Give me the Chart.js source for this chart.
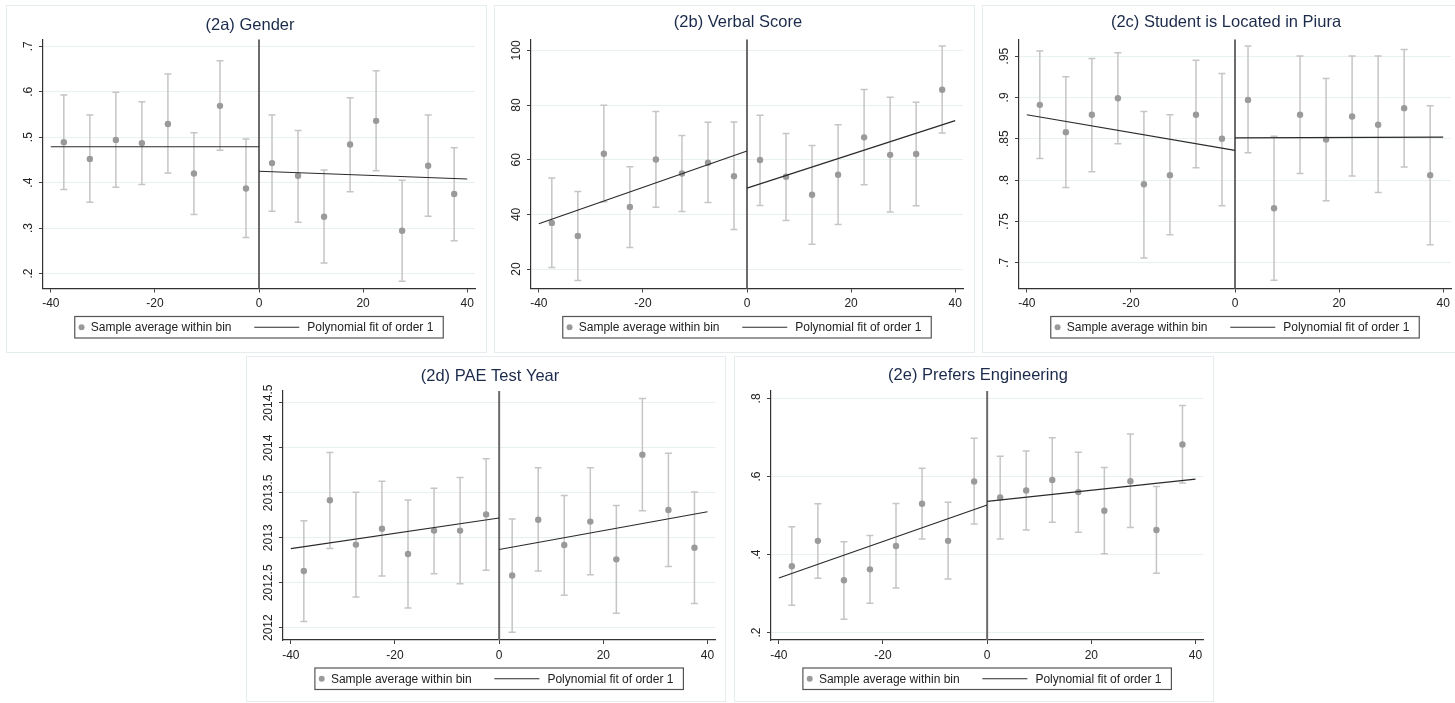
<!DOCTYPE html>
<html>
<head>
<meta charset="utf-8">
<script src="https://cdn.jsdelivr.net/npm/chart.js@4.4.1/dist/chart.umd.min.js"></script>
<style>
  html, body { margin: 0; padding: 0; background: #ffffff; width: 1455px; height: 703px; overflow: hidden; }
  .panel { position: absolute; background: #ffffff; border: 1px solid #e5edef; box-sizing: border-box; }
  .panel canvas { position: absolute; left: 0; top: 0; }
</style>
</head>
<body>
<div class="panel" id="p0" style="left:6px;top:5px;width:481px;height:348px;"><canvas id="c0" width="481" height="348"></canvas></div>
<div class="panel" id="p1" style="left:494px;top:5px;width:481px;height:348px;"><canvas id="c1" width="481" height="348"></canvas></div>
<div class="panel" id="p2" style="left:982px;top:5px;width:481px;height:348px;"><canvas id="c2" width="481" height="348"></canvas></div>
<div class="panel" id="p3" style="left:246px;top:356px;width:480px;height:346px;"><canvas id="c3" width="480" height="346"></canvas></div>
<div class="panel" id="p4" style="left:734px;top:356px;width:480px;height:346px;"><canvas id="c4" width="480" height="346"></canvas></div>
<script>
// ---------------- DATA ----------------
const binCenters = [-37.5, -32.5, -27.5, -22.5, -17.5, -12.5, -7.5, -2.5, 2.5, 7.5, 12.5, 17.5, 22.5, 27.5, 32.5, 37.5];
const fitXLeft = [-40, 0];
const fitXRight = [0, 40];
const xTicks = [-40, -20, 0, 20, 40];
const xTickLabels = ['-40', '-20', '0', '20', '40'];

const genderMean = [0.489, 0.452, 0.494, 0.487, 0.529, 0.420, 0.569, 0.387, 0.443, 0.415, 0.325, 0.484, 0.536, 0.294, 0.437, 0.375];
const genderLo   = [0.385, 0.357, 0.390, 0.396, 0.421, 0.330, 0.471, 0.279, 0.337, 0.313, 0.223, 0.380, 0.426, 0.183, 0.326, 0.272];
const genderHi   = [0.593, 0.549, 0.599, 0.578, 0.639, 0.510, 0.668, 0.496, 0.549, 0.515, 0.428, 0.587, 0.646, 0.405, 0.549, 0.477];
const genderFitLeft = [0.479, 0.479];
const genderFitRight = [0.425, 0.408];
const genderTicks = [0.2, 0.3, 0.4, 0.5, 0.6, 0.7];
const genderTickLabels = ['.2', '.3', '.4', '.5', '.6', '.7'];

const verbalMean = [36.9, 32.1, 62.2, 42.7, 60.1, 55.0, 58.9, 54.0, 59.9, 53.8, 47.2, 54.5, 68.2, 61.8, 62.1, 85.6];
const verbalLo   = [20.6, 15.8, 44.6, 27.9, 42.6, 41.1, 44.4, 34.5, 43.3, 37.8, 29.1, 36.3, 50.9, 40.9, 43.2, 69.8];
const verbalHi   = [53.3, 48.4, 79.9, 57.4, 77.7, 68.9, 73.7, 73.8, 76.3, 69.6, 65.2, 72.8, 85.7, 82.9, 81.0, 101.6];
const verbalFitLeft = [36.6, 63.2];
const verbalFitRight = [49.6, 74.3];
const verbalTicks = [20, 40, 60, 80, 100];
const verbalTickLabels = ['20', '40', '60', '80', '100'];

const piuraMean = [0.891, 0.858, 0.879, 0.899, 0.795, 0.806, 0.879, 0.850, 0.897, 0.766, 0.879, 0.849, 0.877, 0.867, 0.887, 0.806];
const piuraLo   = [0.826, 0.791, 0.810, 0.844, 0.706, 0.734, 0.815, 0.769, 0.833, 0.679, 0.808, 0.775, 0.805, 0.785, 0.816, 0.722];
const piuraHi   = [0.956, 0.925, 0.947, 0.954, 0.883, 0.879, 0.945, 0.929, 0.962, 0.853, 0.950, 0.923, 0.950, 0.950, 0.958, 0.890];
const piuraFitLeft = [0.879, 0.836];
const piuraFitRight = [0.851, 0.852];
const piuraTicks = [0.7, 0.75, 0.8, 0.85, 0.9, 0.95];
const piuraTickLabels = ['.7', '.75', '.8', '.85', '.9', '.95'];

const yearMean = [2012.63, 2013.417, 2012.924, 2013.10, 2012.82, 2013.08, 2013.08, 2013.26, 2012.58, 2013.20, 2012.92, 2013.18, 2012.76, 2013.925, 2013.31, 2012.89];
const yearLo   = [2012.07, 2012.88, 2012.34, 2012.575, 2012.22, 2012.60, 2012.49, 2012.64, 2011.95, 2012.63, 2012.36, 2012.59, 2012.16, 2013.30, 2012.68, 2012.27];
const yearHi   = [2013.19, 2013.95, 2013.506, 2013.63, 2013.42, 2013.55, 2013.67, 2013.88, 2013.21, 2013.78, 2013.47, 2013.78, 2013.36, 2014.55, 2013.94, 2013.51];
const yearFitLeft = [2012.88, 2013.22];
const yearFitRight = [2012.87, 2013.29];
const yearTicks = [2012, 2012.5, 2013, 2013.5, 2014, 2014.5];
const yearTickLabels = ['2012', '2012.5', '2013', '2013.5', '2014', '2014.5'];

const engMean = [0.370, 0.435, 0.334, 0.362, 0.422, 0.530, 0.435, 0.587, 0.546, 0.564, 0.591, 0.560, 0.512, 0.588, 0.463, 0.682];
const engLo   = [0.270, 0.339, 0.234, 0.275, 0.314, 0.440, 0.337, 0.478, 0.440, 0.463, 0.483, 0.457, 0.402, 0.469, 0.352, 0.583];
const engHi   = [0.471, 0.530, 0.433, 0.449, 0.531, 0.621, 0.534, 0.698, 0.652, 0.665, 0.699, 0.662, 0.623, 0.709, 0.574, 0.782];
const engFitLeft = [0.340, 0.527];
const engFitRight = [0.536, 0.593];
const engTicks = [0.2, 0.4, 0.6, 0.8];
const engTickLabels = ['.2', '.4', '.6', '.8'];

const titles = ['(2a) Gender', '(2b) Verbal Score', '(2c) Student is Located in Piura', '(2d) PAE Test Year', '(2e) Prefers Engineering'];
const legendLabels = ['Sample average within bin', 'Polynomial fit of order 1'];

// ---------------- STYLE / LAYOUT ----------------
const FONT = "'Liberation Sans', Arial, Helvetica, sans-serif";
Chart.defaults.font.family = FONT;
Chart.defaults.font.size = 12;
Chart.defaults.color = '#222222';

const panels = [
  { canvas: 'c0', title: titles[0], mean: genderMean, lo: genderLo, hi: genderHi, fitL: genderFitLeft, fitR: genderFitRight, yt: genderTicks, ytl: genderTickLabels, yMin: 0.167, yMax: 0.715, titleY: 19, top: 33.5, bottom: 41.5, right: 13, legendY: 310.5 },
  { canvas: 'c1', title: titles[1], mean: verbalMean, lo: verbalLo, hi: verbalHi, fitL: verbalFitLeft, fitR: verbalFitRight, yt: verbalTicks, ytl: verbalTickLabels, yMin: 12.9, yMax: 104, titleY: 16.5, top: 33.5, bottom: 41.5, right: 13, legendY: 310.5 },
  { canvas: 'c2', title: titles[2], mean: piuraMean, lo: piuraLo, hi: piuraHi, fitL: piuraFitLeft, fitR: piuraFitRight, yt: piuraTicks, ytl: piuraTickLabels, yMin: 0.669, yMax: 0.970, titleY: 16, top: 33.5, bottom: 41.5, right: 13, legendY: 310.5 },
  { canvas: 'c3', title: titles[3], mean: yearMean, lo: yearLo, hi: yearHi, fitL: yearFitLeft, fitR: yearFitRight, yt: yearTicks, ytl: yearTickLabels, yMin: 2011.863, yMax: 2014.633, titleY: 19.5, top: 34, bottom: 39, right: 11.7, legendY: 311 },
  { canvas: 'c4', title: titles[4], mean: engMean, lo: engLo, hi: engHi, fitL: engFitLeft, fitR: engFitRight, yt: engTicks, ytl: engTickLabels, yMin: 0.181, yMax: 0.819, titleY: 18, top: 34, bottom: 39, right: 11.7, legendY: 311 }
];

const extrasPlugin = {
  id: 'stataExtras',
  beforeDatasetsDraw(chart) {
    const cfg = chart.options.plugins.stataExtras;
    const ctx = chart.ctx, xs = chart.scales.x, ys = chart.scales.y, ca = chart.chartArea;
    ctx.save();
    // error bars
    ctx.strokeStyle = '#c5c5c5';
    ctx.lineWidth = 1.5;
    for (let i = 0; i < binCenters.length; i++) {
      const px = xs.getPixelForValue(binCenters[i]);
      const y1 = ys.getPixelForValue(cfg.lo[i]);
      const y2 = ys.getPixelForValue(cfg.hi[i]);
      ctx.beginPath();
      ctx.moveTo(px, y1); ctx.lineTo(px, y2);
      ctx.moveTo(px - 3.5, y1); ctx.lineTo(px + 3.5, y1);
      ctx.moveTo(px - 3.5, y2); ctx.lineTo(px + 3.5, y2);
      ctx.stroke();
    }
    // cutoff line at 0
    const x0 = xs.getPixelForValue(0);
    ctx.strokeStyle = '#6b6b6b';
    ctx.lineWidth = 2;
    ctx.beginPath();
    ctx.moveTo(x0, ca.top); ctx.lineTo(x0, ca.bottom);
    ctx.stroke();
    ctx.restore();
  },
  afterDraw(chart) {
    const cfg = chart.options.plugins.stataExtras;
    const ctx = chart.ctx, ys = chart.scales.y, ca = chart.chartArea;
    ctx.save();
    // rotated y tick labels
    ctx.fillStyle = '#222222';
    ctx.font = '12px ' + FONT;
    ctx.textAlign = 'center';
    ctx.textBaseline = 'middle';
    cfg.yt.forEach((v, i) => {
      const py = ys.getPixelForValue(v);
      ctx.save();
      ctx.translate(ca.left - 14, py);
      ctx.rotate(-Math.PI / 2);
      ctx.fillText(cfg.ytl[i], 0, 0);
      ctx.restore();
    });
    // title
    ctx.fillStyle = '#1c2b4b';
    ctx.font = '16.5px ' + FONT;
    ctx.textAlign = 'center';
    ctx.textBaseline = 'middle';
    ctx.fillText(cfg.title, 243, cfg.titleY);
    // legend
    const cx = (ca.left + ca.right) / 2;
    const bw = 368.5, bh = 21.5;
    const bx = cx - bw / 2, by = cfg.legendY;
    ctx.strokeStyle = '#555555';
    ctx.lineWidth = 1.2;
    ctx.strokeRect(bx, by, bw, bh);
    const my = by + bh / 2;
    ctx.fillStyle = '#9a9a9a';
    ctx.beginPath();
    ctx.arc(bx + 6.8, my, 3, 0, Math.PI * 2);
    ctx.fill();
    ctx.fillStyle = '#222222';
    ctx.font = '12px ' + FONT;
    ctx.textAlign = 'left';
    ctx.fillText(legendLabels[0], bx + 16, my + 0.5);
    ctx.strokeStyle = '#2a2a2a';
    ctx.lineWidth = 1.2;
    ctx.beginPath();
    ctx.moveTo(bx + 179.5, my); ctx.lineTo(bx + 224.5, my);
    ctx.stroke();
    ctx.fillText(legendLabels[1], bx + 232.5, my + 0.5);
    ctx.restore();
  }
};

panels.forEach(p => {
  const pointData = binCenters.map((x, i) => ({ x: x, y: p.mean[i] }));
  const fitLeftData = fitXLeft.map((x, i) => ({ x: x, y: p.fitL[i] }));
  const fitRightData = fitXRight.map((x, i) => ({ x: x, y: p.fitR[i] }));
  new Chart(document.getElementById(p.canvas), {
    type: 'scatter',
    data: {
      datasets: [
        { type: 'line', data: fitLeftData, borderColor: '#2a2a2a', borderWidth: 1.2, pointRadius: 0, fill: false, order: 1 },
        { type: 'line', data: fitRightData, borderColor: '#2a2a2a', borderWidth: 1.2, pointRadius: 0, fill: false, order: 1 },
        { data: pointData, backgroundColor: '#9a9a9a', borderWidth: 0, pointRadius: 3.2, order: 2 }
      ]
    },
    options: {
      responsive: false,
      animation: false,
      devicePixelRatio: 1,
      layout: { padding: { left: 6, right: p.right, top: p.top, bottom: p.bottom } },
      plugins: {
        legend: { display: false },
        title: { display: false },
        tooltip: { enabled: false },
        stataExtras: { lo: p.lo, hi: p.hi, yt: p.yt, ytl: p.ytl, title: p.title, titleY: p.titleY, legendY: p.legendY }
      },
      scales: {
        x: {
          type: 'linear',
          min: -41.5, max: 41.5,
          afterBuildTicks: s => { s.ticks = xTicks.map(v => ({ value: v })); },
          afterFit: s => { s.height = 24; },
          ticks: { color: '#222222', font: { size: 12 }, maxRotation: 0, padding: 4,
                   callback: (v) => xTickLabels[xTicks.indexOf(v)] },
          grid: { drawOnChartArea: false, drawTicks: true, tickLength: 4, tickColor: '#444444', tickWidth: 1 },
          border: { display: true, color: '#333333', width: 1.2 }
        },
        y: {
          type: 'linear',
          min: p.yMin, max: p.yMax,
          afterBuildTicks: s => { s.ticks = p.yt.map(v => ({ value: v })); },
          afterFit: s => { s.width = 30; },
          ticks: { display: false },
          grid: { drawOnChartArea: true, color: '#e8f0f0', lineWidth: 1, drawTicks: true, tickLength: 4, tickColor: '#444444', tickWidth: 1 },
          border: { display: true, color: '#333333', width: 1.2 }
        }
      }
    },
    plugins: [extrasPlugin]
  });
});
</script>
</body>
</html>
